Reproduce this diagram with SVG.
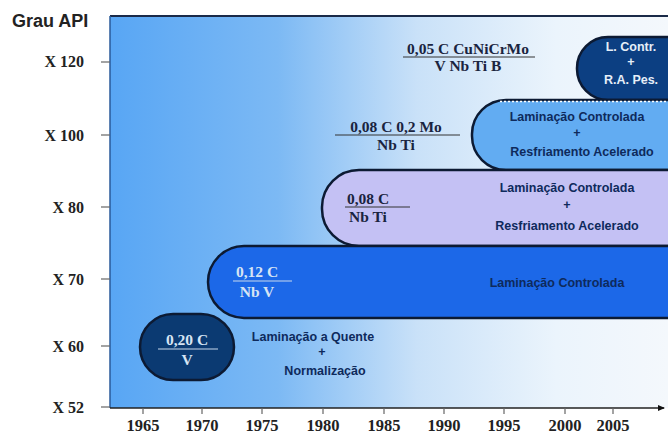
<svg xmlns="http://www.w3.org/2000/svg" width="668" height="434" viewBox="0 0 668 434">
<defs>
<linearGradient id="bg" x1="110" y1="0" x2="668" y2="0" gradientUnits="userSpaceOnUse">
<stop offset="0" stop-color="#58a6f4"/>
<stop offset="0.3" stop-color="#7cb9f4"/>
<stop offset="0.55" stop-color="#c9e1f8"/>
<stop offset="0.8" stop-color="#ebf4fc"/>
<stop offset="1" stop-color="#f4f8fc"/>
</linearGradient>
<marker id="arr" markerWidth="8" markerHeight="8" refX="6" refY="4" orient="auto" markerUnits="userSpaceOnUse">
<path d="M0,1 L7,4 L0,7 z" fill="#111"/>
</marker>
</defs>
<style>
.ylab{font-family:"Liberation Serif",serif;font-weight:bold;font-size:16px;fill:#222;text-anchor:end}
.xlab{font-family:"Liberation Serif",serif;font-weight:bold;font-size:16.5px;fill:#222;text-anchor:middle}
.tick{stroke:#666;stroke-width:1.2}
.form{font-family:"Liberation Serif",serif;font-weight:bold;font-size:15.5px;text-anchor:middle}
.dk{fill:#1a2440}
.lt{fill:#d6e4f4}
.proc{font-family:"Liberation Sans",Arial,sans-serif;font-weight:bold;font-size:12.5px;text-anchor:middle;fill:#0e2a5c}
.procw{font-family:"Liberation Sans",Arial,sans-serif;font-weight:bold;font-size:12.5px;text-anchor:middle;fill:#e6eef8}
.pill{stroke:#0c1a33;stroke-width:2.5}
.ul{stroke:#333;stroke-width:1}
.ulw{stroke:#c8d8ec;stroke-width:1}
</style>
<rect width="668" height="434" fill="#ffffff"/>
<text x="12" y="27" font-family="Liberation Sans,Arial,sans-serif" font-weight="bold" font-size="18" fill="#222">Grau API</text>
<rect x="110" y="16" width="560" height="392" fill="url(#bg)"/>
<line x1="110" y1="16" x2="668" y2="16" stroke="#1a2a48" stroke-width="2"/>
<line x1="110" y1="16" x2="110" y2="408" stroke="#2a5a9a" stroke-width="1.5"/>
<g id="yaxis">
<line class="tick" x1="101" y1="62" x2="110" y2="62"/>
<line class="tick" x1="101" y1="135" x2="110" y2="135"/>
<line class="tick" x1="101" y1="207" x2="110" y2="207"/>
<line class="tick" x1="101" y1="279" x2="110" y2="279"/>
<line class="tick" x1="101" y1="346" x2="110" y2="346"/>
<line class="tick" x1="101" y1="407" x2="110" y2="407"/>
<text class="ylab" x="84" y="67">X 120</text>
<text class="ylab" x="84" y="141">X 100</text>
<text class="ylab" x="84" y="213">X 80</text>
<text class="ylab" x="84" y="285">X 70</text>
<text class="ylab" x="84" y="352">X 60</text>
<text class="ylab" x="84" y="413">X 52</text>
</g>
<g id="n5">
<rect class="pill" x="577" y="37" width="140" height="63" rx="31" fill="#0c3f82"/>
<text class="procw" x="631" y="51">L. Contr.</text>
<text class="procw" x="631" y="66">+</text>
<text class="procw" x="631" y="84">R.A. Pes.</text>
</g>
<g id="n4">
<rect class="pill" x="472" y="100" width="240" height="70" rx="34" fill="#62acf2"/>
<line x1="500" y1="101.5" x2="668" y2="101.5" stroke="#ffffff" stroke-width="1.5" stroke-dasharray="2,2"/>
<text class="proc" x="577" y="121">Laminação Controlada</text>
<text class="proc" x="577" y="137">+</text>
<text class="proc" x="582" y="156">Resfriamento Acelerado</text>
</g>
<g id="n3">
<rect class="pill" x="322" y="170" width="400" height="76" rx="37" fill="#c4c1f4"/>
<text class="proc" x="567" y="192">Laminação Controlada</text>
<text class="proc" x="567" y="209">+</text>
<text class="proc" x="567" y="230">Resfriamento Acelerado</text>
</g>
<g id="n2">
<rect class="pill" x="208" y="246" width="500" height="72" rx="36" fill="#1c68e8"/>
<text class="proc" x="557" y="287">Laminação Controlada</text>
</g>
<g id="n1">
<rect class="pill" x="140" y="314" width="94" height="66" rx="33" fill="#0b3a72"/>
</g>
<g id="formulas">
<text class="form dk" x="468" y="54">0,05 C CuNiCrMo</text>
<line class="ul" x1="403" y1="57" x2="535" y2="57"/>
<text class="form dk" x="468" y="71">V Nb Ti B</text>
<text class="form dk" x="396" y="132">0,08 C 0,2 Mo</text>
<line class="ul" x1="335" y1="135" x2="460" y2="135"/>
<text class="form dk" x="396" y="150">Nb Ti</text>
<text class="form dk" x="368" y="204">0,08 C</text>
<line class="ul" x1="345" y1="207" x2="410" y2="207"/>
<text class="form dk" x="368" y="222">Nb Ti</text>
<text class="form lt" x="257" y="277">0,12 C</text>
<line class="ulw" x1="233" y1="281" x2="292" y2="281"/>
<text class="form lt" x="257" y="297">Nb V</text>
<text class="form lt" x="187" y="345">0,20 C</text>
<line class="ulw" x1="158" y1="349" x2="218" y2="349"/>
<text class="form lt" x="187" y="365">V</text>
</g>
<g id="n0">
<text class="proc" x="313" y="341">Laminação a Quente</text>
<text class="proc" x="322" y="356">+</text>
<text class="proc" x="325" y="375">Normalização</text>
</g>
<g id="connectors">
<line x1="110" y1="408" x2="664" y2="408" stroke="#222" stroke-width="1.5" marker-end="url(#arr)"/>
</g>
<g id="xaxis">
<line class="tick" x1="143" y1="408" x2="143" y2="414"/>
<line class="tick" x1="202" y1="408" x2="202" y2="414"/>
<line class="tick" x1="262" y1="408" x2="262" y2="414"/>
<line class="tick" x1="323" y1="408" x2="323" y2="414"/>
<line class="tick" x1="384" y1="408" x2="384" y2="414"/>
<line class="tick" x1="444" y1="408" x2="444" y2="414"/>
<line class="tick" x1="504" y1="408" x2="504" y2="414"/>
<line class="tick" x1="565" y1="408" x2="565" y2="414"/>
<line class="tick" x1="613" y1="408" x2="613" y2="414"/>
<text class="xlab" x="143" y="431">1965</text>
<text class="xlab" x="202" y="431">1970</text>
<text class="xlab" x="262" y="431">1975</text>
<text class="xlab" x="323" y="431">1980</text>
<text class="xlab" x="384" y="431">1985</text>
<text class="xlab" x="444" y="431">1990</text>
<text class="xlab" x="504" y="431">1995</text>
<text class="xlab" x="565" y="431">2000</text>
<text class="xlab" x="613" y="431">2005</text>
</g>
</svg>
